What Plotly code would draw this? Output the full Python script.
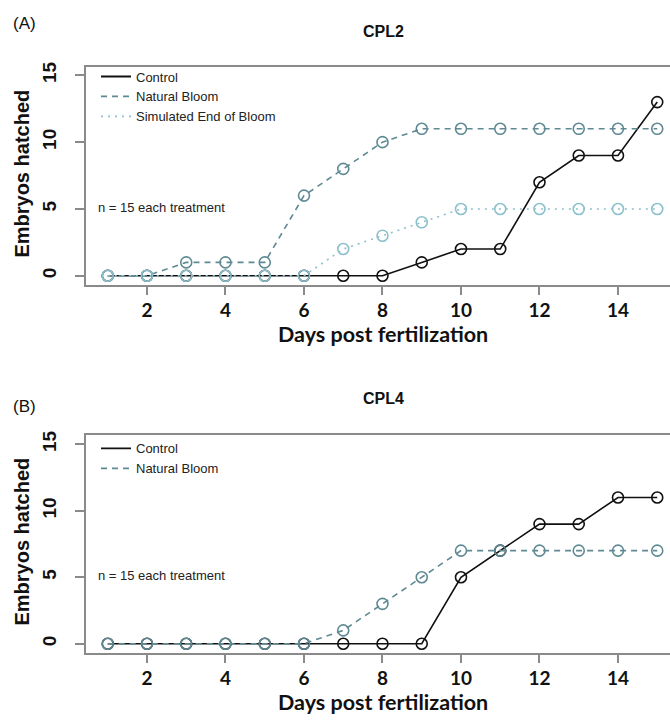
import plotly.graph_objects as go

days = list(range(1, 16))
# Panel A (CPL2)
a_control = [0, 0, 0, 0, 0, 0, 0, 0, 1, 2, 2, 7, 9, 9, 13]
a_natural = [0, 0, 1, 1, 1, 6, 8, 10, 11, 11, 11, 11, 11, 11, 11]
a_simend = [0, 0, 0, 0, 0, 0, 2, 3, 4, 5, 5, 5, 5, 5, 5]
# Panel B (CPL4)
b_control = [0, 0, 0, 0, 0, 0, 0, 0, 0, 5, 7, 9, 9, 11, 11]
b_natural = [0, 0, 0, 0, 0, 0, 1, 3, 5, 7, 7, 7, 7, 7, 7]

x_ticks = [2, 4, 6, 8, 10, 12, 14]
y_ticks = [0, 5, 10, 15]

W, H = 670, 726
C_CTRL = "#111111"
C_NAT = "#5f8a93"
C_SIM = "#8cc0cc"
AXC = "#8a8a8a"

def px(x):
    return x / W

def py(y):
    return 1 - y / H

fig = go.Figure()

def series(xa, ya, y, color, dash):
    fig.add_trace(go.Scatter(
        x=days, y=y, xaxis=xa, yaxis=ya, mode="lines+markers",
        line=dict(color=color, width=1.6, dash=dash),
        marker=dict(symbol="circle-open", size=11, color=color, line=dict(width=1.6, color=color)),
        showlegend=False, hoverinfo="skip"))

def legend_item(name, color, dash, leg, xa, ya):
    fig.add_trace(go.Scatter(
        x=[None], y=[None], xaxis=xa, yaxis=ya, mode="lines", name=name, legend=leg,
        line=dict(color=color, width=1.8, dash=dash)))

series("x", "y", a_control, C_CTRL, "solid")
series("x", "y", a_natural, C_NAT, "6px,5px")
series("x", "y", a_simend, C_SIM, "2px,5px")
legend_item("Control", C_CTRL, "solid", "legend", "x", "y3")
legend_item("Natural Bloom", C_NAT, "6px,5px", "legend", "x", "y3")
legend_item("Simulated End of Bloom", C_SIM, "2px,5px", "legend", "x", "y3")

series("x2", "y2", b_control, C_CTRL, "solid")
series("x2", "y2", b_natural, C_NAT, "6px,5px")
legend_item("Control", C_CTRL, "solid", "legend2", "x2", "y4")
legend_item("Natural Bloom", C_NAT, "6px,5px", "legend2", "x2", "y4")

xcommon = dict(
    range=[0.446, 15.325], tickvals=x_ticks, ticktext=[str(v) for v in x_ticks],
    showline=True, linecolor=AXC, linewidth=2, mirror=True,
    ticks="outside", ticklen=8, tickwidth=1.5, tickcolor=AXC,
    tickfont=dict(family="Lato", size=19, color="#111111", weight="bold"),
    showgrid=False, zeroline=False, domain=[px(86), 1.0],
)
ymain = dict(
    tickvals=y_ticks, showticklabels=False,
    showline=True, linecolor=AXC, linewidth=2,
    ticks="outside", ticklen=9, tickwidth=1.5, tickcolor=AXC,
    showgrid=False, zeroline=False,
)
ylabels = dict(
    tickvals=y_ticks, ticktext=[str(v) for v in y_ticks],
    showline=False, ticks="outside", ticklen=9, tickcolor="rgba(0,0,0,0)", tickangle=-90,
    tickfont=dict(family="Liberation Sans", size=19, color="#111111", weight="bold"),
    showgrid=False, zeroline=False, anchor="free", position=px(73), side="left",
)
RA = [-0.668, 15.59]
RB = [-0.67, 15.67]

fig.update_layout(
    width=W, height=H, margin=dict(l=0, r=0, t=0, b=0),
    paper_bgcolor="white", plot_bgcolor="white",
    xaxis=dict(xcommon, anchor="y"),
    yaxis=dict(ymain, range=RA, domain=[py(281), py(62)], anchor="x"),
    yaxis3=dict(ylabels, range=RA, overlaying="y"),
    xaxis2=dict(xcommon, anchor="y2"),
    yaxis2=dict(ymain, range=RB, domain=[py(652), py(433)], anchor="x2"),
    yaxis4=dict(ylabels, range=RB, overlaying="y2"),
    legend=dict(x=px(96), y=py(56), xanchor="left", yanchor="top",
                bgcolor="rgba(0,0,0,0)", font=dict(family="Liberation Sans", size=13, color="#222222"),
                tracegroupgap=0, itemwidth=30),
    legend2=dict(x=px(96), y=py(431), xanchor="left", yanchor="top",
                 bgcolor="rgba(0,0,0,0)", font=dict(family="Liberation Sans", size=13, color="#222222"),
                 tracegroupgap=0, itemwidth=30),
    showlegend=True,
)

def ann(x, y, text, size, family="Liberation Sans", bold=False, xanchor="center", angle=0, color="#111111"):
    fig.add_annotation(x=px(x), y=py(y), xref="paper", yref="paper", text=text, showarrow=False,
                       xanchor=xanchor, yanchor="middle", textangle=angle,
                       font=dict(family=family, size=size, color=color, weight="bold" if bold else "normal"))

panels = [(0, "(A)", "CPL2", 18, 26), (371, "(B)", "CPL4", 404, 396)]
for off, lab, title, lab_y, title_y in panels:
    ann(11, lab_y, lab, 17, xanchor="left")
    ann(383, title_y, title, 16, bold=True)
    ann(22, 169 + off, "Embryos hatched", 20, bold=True, angle=-90)
    ann(383, 331 + off, "Days post fertilization", 21.5, family="Lato", bold=True)
    ann(96, 203 + off, "n = 15 each treatment", 13, xanchor="left", color="#222222")

fig.write_html("out.html")
